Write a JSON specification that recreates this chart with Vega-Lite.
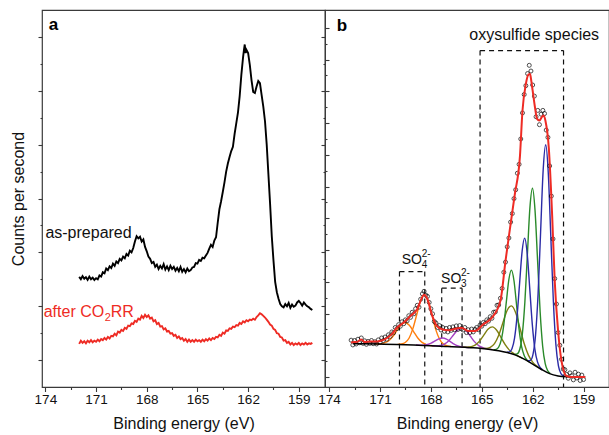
{
  "$schema": "https://vega.github.io/schema/vega-lite/v6.json",
  "background": "white",
  "padding": {"left": 9, "top": 9, "right": 1, "bottom": 1},
  "bounds": "flush",
  "spacing": 0,
  "config": {
    "font": "Liberation Sans",
    "view": {"stroke": "#3a3a3a", "strokeWidth": 1.2},
    "axis": {"domain": false, "grid": false, "tickColor": "#3a3a3a", "tickWidth": 1.1, "labelColor": "#111111", "titleColor": "#111111", "titleFontWeight": "normal", "labelFlush": false, "labelFont": "Liberation Sans", "titleFont": "Liberation Sans"}
  },
  "datasets": {
    "asprep": [
      {"eV":172.0,"y":2045},{"eV":171.9,"y":2000},{"eV":171.8,"y":2060},{"eV":171.7,"y":2010},{"eV":171.6,"y":2040},{"eV":171.5,"y":1990},{"eV":171.4,"y":2050},{"eV":171.3,"y":2000},{"eV":171.2,"y":2030},{"eV":171.1,"y":1985},
      {"eV":171.0,"y":2020},{"eV":170.9,"y":2000},{"eV":170.8,"y":2070},{"eV":170.7,"y":2050},{"eV":170.6,"y":2130},{"eV":170.5,"y":2110},{"eV":170.4,"y":2200},{"eV":170.3,"y":2170},{"eV":170.2,"y":2240},{"eV":170.1,"y":2210},
      {"eV":170.0,"y":2290},{"eV":169.9,"y":2250},{"eV":169.8,"y":2330},{"eV":169.7,"y":2300},{"eV":169.6,"y":2380},{"eV":169.5,"y":2350},{"eV":169.4,"y":2420},{"eV":169.3,"y":2390},{"eV":169.2,"y":2470},{"eV":169.1,"y":2440},
      {"eV":169.0,"y":2530},{"eV":168.9,"y":2500},{"eV":168.8,"y":2580},{"eV":168.7,"y":2700},{"eV":168.6,"y":2800},{"eV":168.5,"y":2760},{"eV":168.4,"y":2790},{"eV":168.3,"y":2700},{"eV":168.2,"y":2740},{"eV":168.1,"y":2600},
      {"eV":168.0,"y":2520},{"eV":167.9,"y":2420},{"eV":167.8,"y":2380},{"eV":167.7,"y":2300},{"eV":167.6,"y":2320},{"eV":167.5,"y":2230},{"eV":167.4,"y":2270},{"eV":167.3,"y":2190},{"eV":167.2,"y":2250},{"eV":167.1,"y":2200},
      {"eV":167.0,"y":2280},{"eV":166.9,"y":2180},{"eV":166.8,"y":2240},{"eV":166.7,"y":2170},{"eV":166.6,"y":2250},{"eV":166.5,"y":2190},{"eV":166.4,"y":2230},{"eV":166.3,"y":2160},{"eV":166.2,"y":2210},{"eV":166.1,"y":2150},
      {"eV":166.0,"y":2230},{"eV":165.9,"y":2140},{"eV":165.8,"y":2190},{"eV":165.7,"y":2130},{"eV":165.6,"y":2200},{"eV":165.5,"y":2150},{"eV":165.4,"y":2170},{"eV":165.3,"y":2220},{"eV":165.2,"y":2230},{"eV":165.1,"y":2300},
      {"eV":165.0,"y":2290},{"eV":164.9,"y":2360},{"eV":164.8,"y":2340},{"eV":164.7,"y":2400},{"eV":164.6,"y":2390},{"eV":164.5,"y":2440},{"eV":164.4,"y":2490},{"eV":164.3,"y":2570},{"eV":164.2,"y":2640},{"eV":164.1,"y":2600},
      {"eV":164.0,"y":2720},{"eV":163.9,"y":2780},{"eV":163.8,"y":3050},{"eV":163.7,"y":3300},{"eV":163.6,"y":3450},{"eV":163.5,"y":3620},{"eV":163.4,"y":3800},{"eV":163.3,"y":4000},{"eV":163.2,"y":4150},{"eV":163.1,"y":4270},
      {"eV":163.0,"y":4380},{"eV":162.9,"y":4460},{"eV":162.8,"y":4700},{"eV":162.7,"y":4900},{"eV":162.6,"y":5100},{"eV":162.5,"y":5400},{"eV":162.4,"y":5800},{"eV":162.3,"y":6120},{"eV":162.25,"y":6250},{"eV":162.2,"y":6360},
      {"eV":162.15,"y":6200},{"eV":162.1,"y":6260},{"eV":162.0,"y":6200},{"eV":161.9,"y":5980},{"eV":161.8,"y":5700},{"eV":161.7,"y":5480},{"eV":161.6,"y":5460},{"eV":161.5,"y":5580},{"eV":161.4,"y":5680},{"eV":161.3,"y":5640},
      {"eV":161.2,"y":5420},{"eV":161.1,"y":5200},{"eV":161.0,"y":4930},{"eV":160.9,"y":4500},{"eV":160.8,"y":3950},{"eV":160.7,"y":3400},{"eV":160.6,"y":2800},{"eV":160.5,"y":2350},{"eV":160.4,"y":1950},{"eV":160.3,"y":1760},
      {"eV":160.2,"y":1640},{"eV":160.1,"y":1540},{"eV":160.0,"y":1500},{"eV":159.9,"y":1480},{"eV":159.8,"y":1540},{"eV":159.7,"y":1500},{"eV":159.6,"y":1560},{"eV":159.5,"y":1470},{"eV":159.4,"y":1530},{"eV":159.3,"y":1490},
      {"eV":159.2,"y":1510},{"eV":159.1,"y":1570},{"eV":159.0,"y":1600},{"eV":158.9,"y":1560},{"eV":158.8,"y":1510},{"eV":158.7,"y":1570},{"eV":158.6,"y":1530},{"eV":158.5,"y":1500},{"eV":158.4,"y":1480},{"eV":158.3,"y":1450},{"eV":158.2,"y":1430}
    ],
    "after": [
      {"eV":172.0,"y":800},{"eV":171.9,"y":860},{"eV":171.8,"y":820},{"eV":171.7,"y":850},{"eV":171.6,"y":810},{"eV":171.5,"y":860},{"eV":171.4,"y":830},{"eV":171.3,"y":870},{"eV":171.2,"y":830},{"eV":171.1,"y":860},
      {"eV":171.0,"y":840},{"eV":170.9,"y":880},{"eV":170.8,"y":850},{"eV":170.7,"y":890},{"eV":170.6,"y":870},{"eV":170.5,"y":910},{"eV":170.4,"y":880},{"eV":170.3,"y":930},{"eV":170.2,"y":900},{"eV":170.1,"y":950},
      {"eV":170.0,"y":940},{"eV":169.9,"y":990},{"eV":169.8,"y":960},{"eV":169.7,"y":1030},{"eV":169.6,"y":1010},{"eV":169.5,"y":1060},{"eV":169.4,"y":1040},{"eV":169.3,"y":1100},{"eV":169.2,"y":1080},{"eV":169.1,"y":1140},
      {"eV":169.0,"y":1130},{"eV":168.9,"y":1180},{"eV":168.8,"y":1170},{"eV":168.7,"y":1230},{"eV":168.6,"y":1210},{"eV":168.5,"y":1270},{"eV":168.4,"y":1250},{"eV":168.3,"y":1320},{"eV":168.2,"y":1280},{"eV":168.1,"y":1340},
      {"eV":168.0,"y":1300},{"eV":167.9,"y":1330},{"eV":167.8,"y":1270},{"eV":167.7,"y":1290},{"eV":167.6,"y":1220},{"eV":167.5,"y":1240},{"eV":167.4,"y":1170},{"eV":167.3,"y":1190},{"eV":167.2,"y":1120},{"eV":167.1,"y":1130},
      {"eV":167.0,"y":1070},{"eV":166.9,"y":1090},{"eV":166.8,"y":1030},{"eV":166.7,"y":1040},{"eV":166.6,"y":990},{"eV":166.5,"y":1000},{"eV":166.4,"y":950},{"eV":166.3,"y":970},{"eV":166.2,"y":910},{"eV":166.1,"y":940},
      {"eV":166.0,"y":890},{"eV":165.9,"y":910},{"eV":165.8,"y":860},{"eV":165.7,"y":890},{"eV":165.6,"y":840},{"eV":165.5,"y":880},{"eV":165.4,"y":840},{"eV":165.3,"y":870},{"eV":165.2,"y":840},{"eV":165.1,"y":880},
      {"eV":165.0,"y":850},{"eV":164.9,"y":870},{"eV":164.8,"y":840},{"eV":164.7,"y":880},{"eV":164.6,"y":850},{"eV":164.5,"y":890},{"eV":164.4,"y":860},{"eV":164.3,"y":900},{"eV":164.2,"y":870},{"eV":164.1,"y":910},
      {"eV":164.0,"y":890},{"eV":163.9,"y":930},{"eV":163.8,"y":920},{"eV":163.7,"y":970},{"eV":163.6,"y":950},{"eV":163.5,"y":1010},{"eV":163.4,"y":990},{"eV":163.3,"y":1050},{"eV":163.2,"y":1040},{"eV":163.1,"y":1090},
      {"eV":163.0,"y":1080},{"eV":162.9,"y":1120},{"eV":162.8,"y":1110},{"eV":162.7,"y":1150},{"eV":162.6,"y":1140},{"eV":162.5,"y":1190},{"eV":162.4,"y":1170},{"eV":162.3,"y":1220},{"eV":162.2,"y":1200},{"eV":162.1,"y":1240},
      {"eV":162.0,"y":1220},{"eV":161.9,"y":1250},{"eV":161.8,"y":1240},{"eV":161.7,"y":1270},{"eV":161.6,"y":1250},{"eV":161.5,"y":1300},{"eV":161.4,"y":1330},{"eV":161.3,"y":1370},{"eV":161.2,"y":1350},{"eV":161.1,"y":1320},
      {"eV":161.0,"y":1290},{"eV":160.9,"y":1250},{"eV":160.8,"y":1210},{"eV":160.7,"y":1160},{"eV":160.6,"y":1140},{"eV":160.5,"y":1080},{"eV":160.4,"y":1060},{"eV":160.3,"y":1000},{"eV":160.2,"y":990},{"eV":160.1,"y":930},
      {"eV":160.0,"y":920},{"eV":159.9,"y":860},{"eV":159.8,"y":870},{"eV":159.7,"y":820},{"eV":159.6,"y":840},{"eV":159.5,"y":790},{"eV":159.4,"y":820},{"eV":159.3,"y":780},{"eV":159.2,"y":810},{"eV":159.1,"y":790},
      {"eV":159.0,"y":820},{"eV":158.9,"y":780},{"eV":158.8,"y":810},{"eV":158.7,"y":790},{"eV":158.6,"y":820},{"eV":158.5,"y":790},{"eV":158.4,"y":810},{"eV":158.3,"y":800},{"eV":158.2,"y":820}
    ],
    "pts": [
      {"eV":172.7,"y":1160},{"eV":172.6,"y":1010},{"eV":172.5,"y":1150},{"eV":172.4,"y":1040},{"eV":172.3,"y":1190},{"eV":172.2,"y":1080},{"eV":172.1,"y":1230},{"eV":172.0,"y":1060},{"eV":171.9,"y":1140},{"eV":171.8,"y":1030},
      {"eV":171.7,"y":1120},{"eV":171.6,"y":1060},{"eV":171.5,"y":1150},{"eV":171.4,"y":1050},{"eV":171.3,"y":1110},{"eV":171.2,"y":1040},{"eV":171.1,"y":1170},{"eV":171.0,"y":1090},{"eV":170.9,"y":1230},{"eV":170.8,"y":1150},
      {"eV":170.7,"y":1260},{"eV":170.6,"y":1190},{"eV":170.5,"y":1330},{"eV":170.4,"y":1280},{"eV":170.3,"y":1420},{"eV":170.2,"y":1390},{"eV":170.1,"y":1560},{"eV":170.0,"y":1520},{"eV":169.9,"y":1650},{"eV":169.8,"y":1600},
      {"eV":169.7,"y":1740},{"eV":169.6,"y":1680},{"eV":169.5,"y":1800},{"eV":169.4,"y":1770},{"eV":169.3,"y":1930},{"eV":169.2,"y":1880},{"eV":169.1,"y":2040},{"eV":169.0,"y":1990},{"eV":168.9,"y":2150},{"eV":168.8,"y":2260},
      {"eV":168.7,"y":2200},{"eV":168.6,"y":2450},{"eV":168.5,"y":2620},{"eV":168.4,"y":2700},{"eV":168.3,"y":2580},{"eV":168.2,"y":2540},{"eV":168.1,"y":2350},{"eV":168.0,"y":2150},{"eV":167.9,"y":1990},{"eV":167.8,"y":1750},
      {"eV":167.7,"y":1700},{"eV":167.6,"y":1560},{"eV":167.5,"y":1620},{"eV":167.4,"y":1480},{"eV":167.3,"y":1560},{"eV":167.2,"y":1440},{"eV":167.1,"y":1530},{"eV":167.0,"y":1420},{"eV":166.9,"y":1560},{"eV":166.8,"y":1470},
      {"eV":166.7,"y":1580},{"eV":166.6,"y":1490},{"eV":166.5,"y":1610},{"eV":166.4,"y":1500},{"eV":166.3,"y":1620},{"eV":166.2,"y":1520},{"eV":166.1,"y":1480},{"eV":166.0,"y":1560},{"eV":165.9,"y":1400},{"eV":165.8,"y":1490},
      {"eV":165.7,"y":1400},{"eV":165.6,"y":1510},{"eV":165.5,"y":1420},{"eV":165.4,"y":1500},{"eV":165.3,"y":1560},{"eV":165.2,"y":1490},{"eV":165.1,"y":1640},{"eV":165.0,"y":1600},{"eV":164.9,"y":1720},{"eV":164.8,"y":1680},
      {"eV":164.7,"y":1800},{"eV":164.6,"y":1760},{"eV":164.5,"y":1900},{"eV":164.4,"y":1850},{"eV":164.3,"y":2040},{"eV":164.2,"y":2050},{"eV":164.1,"y":2260},{"eV":164.0,"y":2270},{"eV":163.9,"y":2480},{"eV":163.8,"y":2790},
      {"eV":163.7,"y":3300},{"eV":163.6,"y":3620},{"eV":163.5,"y":4100},{"eV":163.4,"y":4380},{"eV":163.3,"y":4880},{"eV":163.2,"y":5150},{"eV":163.1,"y":5620},{"eV":163.0,"y":5900},{"eV":162.9,"y":6420},{"eV":162.8,"y":6700},
      {"eV":162.7,"y":7500},{"eV":162.6,"y":8320},{"eV":162.5,"y":8900},{"eV":162.4,"y":9180},{"eV":162.3,"y":9560},{"eV":162.2,"y":9820},{"eV":162.1,"y":9640},{"eV":162.0,"y":9200},{"eV":161.9,"y":8850},{"eV":161.8,"y":8200},
      {"eV":161.7,"y":8400},{"eV":161.6,"y":7950},{"eV":161.5,"y":8280},{"eV":161.4,"y":8400},{"eV":161.3,"y":8300},{"eV":161.2,"y":7780},{"eV":161.1,"y":7550},{"eV":161.0,"y":6650},{"eV":160.9,"y":5700},{"eV":160.8,"y":4350},
      {"eV":160.7,"y":3100},{"eV":160.6,"y":2300},{"eV":160.5,"y":1400},{"eV":160.4,"y":1000},{"eV":160.3,"y":560},{"eV":160.2,"y":250},{"eV":160.1,"y":230},{"eV":160.0,"y":80},{"eV":159.9,"y":-40},{"eV":159.8,"y":130},
      {"eV":159.7,"y":40},{"eV":159.6,"y":-90},{"eV":159.5,"y":150},{"eV":159.4,"y":-30},{"eV":159.3,"y":90},{"eV":159.2,"y":-110},{"eV":159.1,"y":60},{"eV":159.0,"y":-80}
    ],
    "fit": [
      {"eV":172.7,"y":1085},{"eV":172.5,"y":1100},{"eV":172.3,"y":1115},{"eV":172.1,"y":1180},{"eV":171.9,"y":1105},{"eV":171.6,"y":1120},{"eV":171.3,"y":1115},{"eV":171.0,"y":1135},{"eV":170.7,"y":1190},{"eV":170.5,"y":1260},
      {"eV":170.3,"y":1350},{"eV":170.0,"y":1555},{"eV":169.6,"y":1715},{"eV":169.2,"y":1925},{"eV":168.8,"y":2140},{"eV":168.55,"y":2470},{"eV":168.4,"y":2590},{"eV":168.2,"y":2450},{"eV":167.95,"y":1980},{"eV":167.65,"y":1610},
      {"eV":167.35,"y":1505},{"eV":166.95,"y":1475},{"eV":166.5,"y":1530},{"eV":166.2,"y":1555},{"eV":165.8,"y":1450},{"eV":165.4,"y":1450},{"eV":164.9,"y":1665},{"eV":164.4,"y":1870},{"eV":163.9,"y":2400},{"eV":163.6,"y":3660},
      {"eV":163.3,"y":4820},{"eV":163.05,"y":5760},{"eV":162.75,"y":6950},{"eV":162.6,"y":8390},{"eV":162.4,"y":9235},{"eV":162.25,"y":9530},{"eV":162.15,"y":9550},{"eV":162.1,"y":9400},{"eV":162.0,"y":9020},{"eV":161.85,"y":8450},
      {"eV":161.75,"y":8140},{"eV":161.6,"y":8080},{"eV":161.45,"y":8200},{"eV":161.35,"y":8240},{"eV":161.25,"y":8080},{"eV":161.05,"y":7230},{"eV":160.85,"y":5080},{"eV":160.7,"y":3030},{"eV":160.5,"y":1450},{"eV":160.3,"y":505},
      {"eV":160.0,"y":30},{"eV":159.7,"y":0},{"eV":158.9,"y":0}
    ],
    "bgline": [
      {"eV":172.6,"y":1050},{"eV":172.0,"y":1046},{"eV":171.0,"y":1037},{"eV":170.0,"y":1026},{"eV":169.0,"y":1008},{"eV":168.0,"y":984},{"eV":167.0,"y":960},{"eV":166.0,"y":936},{"eV":165.5,"y":922},{"eV":165.0,"y":900},
      {"eV":164.5,"y":870},{"eV":164.0,"y":828},{"eV":163.5,"y":770},{"eV":163.0,"y":690},{"eV":162.5,"y":565},{"eV":162.0,"y":405},{"eV":161.5,"y":245},{"eV":161.0,"y":105},{"eV":160.5,"y":35},{"eV":160.0,"y":8},
      {"eV":159.5,"y":0},{"eV":158.9,"y":0}
    ],
    "comps": [
      {"peak":"o1","eV":171.27,"y":1041},{"peak":"o1","eV":171.02,"y":1045},{"peak":"o1","eV":170.77,"y":1066},{"peak":"o1","eV":170.52,"y":1127},{"peak":"o1","eV":170.27,"y":1256},{"peak":"o1","eV":170.02,"y":1451},{"peak":"o1","eV":169.77,"y":1640},{"peak":"o1","eV":169.52,"y":1718},{"peak":"o1","eV":169.27,"y":1631},{"peak":"o1","eV":169.02,"y":1433},{"peak":"o1","eV":168.77,"y":1229},{"peak":"o1","eV":168.52,"y":1092},{"peak":"o1","eV":168.27,"y":1022},{"peak":"o1","eV":168.02,"y":993},{"peak":"o1","eV":167.77,"y":980},
      {"peak":"o2","eV":169.96,"y":1029},{"peak":"o2","eV":169.73,"y":1040},{"peak":"o2","eV":169.51,"y":1088},{"peak":"o2","eV":169.28,"y":1229},{"peak":"o2","eV":169.06,"y":1525},{"peak":"o2","eV":168.83,"y":1968},{"peak":"o2","eV":168.61,"y":2402},{"peak":"o2","eV":168.38,"y":2583},{"peak":"o2","eV":168.16,"y":2391},{"peak":"o2","eV":167.93,"y":1946},{"peak":"o2","eV":167.71,"y":1493},{"peak":"o2","eV":167.48,"y":1187},{"peak":"o2","eV":167.26,"y":1036},{"peak":"o2","eV":167.03,"y":979},{"peak":"o2","eV":166.81,"y":959},
      {"peak":"p1","eV":168.88,"y":1006},{"peak":"p1","eV":168.65,"y":1004},{"peak":"p1","eV":168.43,"y":1005},{"peak":"p1","eV":168.2,"y":1024},{"peak":"p1","eV":167.98,"y":1068},{"peak":"p1","eV":167.75,"y":1136},{"peak":"p1","eV":167.53,"y":1202},{"peak":"p1","eV":167.3,"y":1227},{"peak":"p1","eV":167.08,"y":1191},{"peak":"p1","eV":166.85,"y":1114},{"peak":"p1","eV":166.63,"y":1035},{"peak":"p1","eV":166.4,"y":981},{"peak":"p1","eV":166.18,"y":951},{"peak":"p1","eV":165.95,"y":938},{"peak":"p1","eV":165.73,"y":929},
      {"peak":"p2","eV":167.93,"y":983},{"peak":"p2","eV":167.68,"y":983},{"peak":"p2","eV":167.43,"y":996},{"peak":"p2","eV":167.18,"y":1045},{"peak":"p2","eV":166.93,"y":1153},{"peak":"p2","eV":166.68,"y":1316},{"peak":"p2","eV":166.43,"y":1476},{"peak":"p2","eV":166.18,"y":1540},{"peak":"p2","eV":165.93,"y":1464},{"peak":"p2","eV":165.68,"y":1291},{"peak":"p2","eV":165.43,"y":1114},{"peak":"p2","eV":165.18,"y":989},{"peak":"p2","eV":164.93,"y":922},{"peak":"p2","eV":164.68,"y":888},{"peak":"p2","eV":164.43,"y":865},
      {"peak":"l1","eV":166.12,"y":941},{"peak":"l1","eV":165.87,"y":941},{"peak":"l1","eV":165.62,"y":957},{"peak":"l1","eV":165.37,"y":1013},{"peak":"l1","eV":165.12,"y":1139},{"peak":"l1","eV":164.87,"y":1329},{"peak":"l1","eV":164.62,"y":1513},{"peak":"l1","eV":164.37,"y":1579},{"peak":"l1","eV":164.12,"y":1473},{"peak":"l1","eV":163.87,"y":1250},{"peak":"l1","eV":163.62,"y":1018},{"peak":"l1","eV":163.37,"y":847},{"peak":"l1","eV":163.12,"y":741},{"peak":"l1","eV":162.87,"y":666},{"peak":"l1","eV":162.62,"y":597},
      {"peak":"l2","eV":165.0,"y":903},{"peak":"l2","eV":164.75,"y":902},{"peak":"l2","eV":164.5,"y":936},{"peak":"l2","eV":164.25,"y":1053},{"peak":"l2","eV":164.0,"y":1318},{"peak":"l2","eV":163.75,"y":1715},{"peak":"l2","eV":163.5,"y":2103},{"peak":"l2","eV":163.25,"y":2240},{"peak":"l2","eV":163.0,"y":2023},{"peak":"l2","eV":162.75,"y":1544},{"peak":"l2","eV":162.5,"y":1055},{"peak":"l2","eV":162.25,"y":689},{"peak":"l2","eV":162.0,"y":471},{"peak":"l2","eV":161.75,"y":342},{"peak":"l2","eV":161.5,"y":248},
      {"peak":"g1","eV":164.3,"y":859},{"peak":"g1","eV":164.15,"y":870},{"peak":"g1","eV":164.0,"y":944},{"peak":"g1","eV":163.85,"y":1168},{"peak":"g1","eV":163.7,"y":1649},{"peak":"g1","eV":163.55,"y":2375},{"peak":"g1","eV":163.4,"y":3080},{"peak":"g1","eV":163.25,"y":3366},{"peak":"g1","eV":163.1,"y":3032},{"peak":"g1","eV":162.95,"y":2277},{"peak":"g1","eV":162.8,"y":1496},{"peak":"g1","eV":162.65,"y":960},{"peak":"g1","eV":162.5,"y":681},{"peak":"g1","eV":162.35,"y":546},{"peak":"g1","eV":162.2,"y":475},
      {"peak":"g2","eV":163.06,"y":712},{"peak":"g2","eV":162.91,"y":728},{"peak":"g2","eV":162.76,"y":873},{"peak":"g2","eV":162.61,"y":1343},{"peak":"g2","eV":162.46,"y":2351},{"peak":"g2","eV":162.31,"y":3863},{"peak":"g2","eV":162.16,"y":5345},{"peak":"g2","eV":162.01,"y":5948},{"peak":"g2","eV":161.86,"y":5249},{"peak":"g2","eV":161.71,"y":3671},{"peak":"g2","eV":161.56,"y":2063},{"peak":"g2","eV":161.41,"y":970},{"peak":"g2","eV":161.26,"y":421},{"peak":"g2","eV":161.11,"y":197},{"peak":"g2","eV":160.96,"y":111},
      {"peak":"b1","eV":163.52,"y":780},{"peak":"b1","eV":163.37,"y":791},{"peak":"b1","eV":163.22,"y":893},{"peak":"b1","eV":163.07,"y":1218},{"peak":"b1","eV":162.92,"y":1910},{"peak":"b1","eV":162.77,"y":2950},{"peak":"b1","eV":162.62,"y":3966},{"peak":"b1","eV":162.47,"y":4375},{"peak":"b1","eV":162.32,"y":3878},{"peak":"b1","eV":162.17,"y":2776},{"peak":"b1","eV":162.02,"y":1651},{"peak":"b1","eV":161.87,"y":880},{"peak":"b1","eV":161.72,"y":483},{"peak":"b1","eV":161.57,"y":309},{"peak":"b1","eV":161.42,"y":231},
      {"peak":"b2","eV":162.28,"y":511},{"peak":"b2","eV":162.13,"y":526},{"peak":"b2","eV":161.98,"y":713},{"peak":"b2","eV":161.83,"y":1319},{"peak":"b2","eV":161.68,"y":2625},{"peak":"b2","eV":161.53,"y":4587},{"peak":"b2","eV":161.38,"y":6521},{"peak":"b2","eV":161.23,"y":7319},{"peak":"b2","eV":161.08,"y":6437},{"peak":"b2","eV":160.93,"y":4427},{"peak":"b2","eV":160.78,"y":2396},{"peak":"b2","eV":160.63,"y":1021},{"peak":"b2","eV":160.48,"y":348},{"peak":"b2","eV":160.33,"y":105},{"peak":"b2","eV":160.18,"y":34}
    ],
    "vdash": [
      {"eV":165.1,"y":10285,"y2":-315},{"eV":160.18,"y":10285,"y2":-315},
      {"eV":169.85,"y":3322,"y2":-315},{"eV":168.36,"y":3322,"y2":-315},
      {"eV":167.36,"y":2798,"y2":-315},{"eV":166.16,"y":2798,"y2":-315}
    ],
    "hdash": [
      {"eV":165.1,"eV2":160.18,"y":10285},
      {"eV":169.85,"eV2":168.36,"y":3322},
      {"eV":167.36,"eV2":166.16,"y":2798}
    ],
    "so": [
      {"eV":169.72,"y":3550,"t":"SO","sub":"4","sup":"2-"},
      {"eV":167.4,"y":2975,"t":"SO","sub":"3","sup":"2-"}
    ]
  },
  "hconcat": [
    {
      "width": 283,
      "height": 377,
      "resolve": {"axis": {"x": "independent", "y": "independent"}},
      "layer": [
        {
          "data": {"name": "asprep"},
          "mark": {"type": "point", "opacity": 0},
          "encoding": {
            "x": {"field": "eV", "type": "quantitative", "scale": {"domain": [157.45, 174.2], "reverse": true, "nice": false, "zero": false},
                  "axis": {"orient": "bottom", "values": [174, 171, 168, 165, 162, 159], "format": "d", "tickSize": 4.5, "labelFontSize": 13.5, "labelPadding": 1, "title": "Binding energy (eV)", "titleFontSize": 16, "titlePadding": 9}},
            "y": {"field": "y", "type": "quantitative", "scale": {"domain": [0, 7000], "nice": false, "zero": false},
                  "axis": {"orient": "left", "values": [500, 1500, 2500, 3500, 4500, 5500, 6500], "tickSize": 4, "labels": false, "title": "Counts per second", "titleFontSize": 16, "titlePadding": 11}}
          }
        },
        {
          "data": {"name": "asprep"},
          "mark": {"type": "point", "opacity": 0},
          "encoding": {
            "x": {"field": "eV", "type": "quantitative", "scale": {"domain": [157.45, 174.2], "reverse": true, "nice": false, "zero": false},
                  "axis": {"orient": "bottom", "values": [172.5, 169.5, 166.5, 163.5, 160.5], "tickSize": 2.5, "labels": false, "title": null}},
            "y": {"field": "y", "type": "quantitative", "scale": {"domain": [0, 7000], "nice": false, "zero": false},
                  "axis": {"orient": "left", "values": [1000, 2000, 3000, 4000, 5000, 6000], "tickSize": 2, "labels": false, "title": null}}
          }
        },
        {
          "data": {"name": "asprep"},
          "mark": {"type": "point", "opacity": 0},
          "encoding": {
            "x": {"field": "eV", "type": "quantitative", "scale": {"domain": [157.45, 174.2], "reverse": true, "nice": false, "zero": false}, "axis": null},
            "y": {"field": "y", "type": "quantitative", "scale": {"domain": [0, 7000], "nice": false, "zero": false},
                  "axis": {"orient": "right", "offset": -4, "values": [500, 1500, 2500, 3500, 4500, 5500, 6500], "tickSize": 4, "labels": false, "title": null}}
          }
        },
        {
          "data": {"name": "asprep"},
          "mark": {"type": "point", "opacity": 0},
          "encoding": {
            "x": {"field": "eV", "type": "quantitative", "scale": {"domain": [157.45, 174.2], "reverse": true, "nice": false, "zero": false}, "axis": null},
            "y": {"field": "y", "type": "quantitative", "scale": {"domain": [0, 7000], "nice": false, "zero": false},
                  "axis": {"orient": "right", "offset": -2, "values": [1000, 2000, 3000, 4000, 5000, 6000], "tickSize": 2, "labels": false, "title": null}}
          }
        },
        {
          "data": {"name": "asprep"},
          "mark": {"type": "line", "color": "#000000", "strokeWidth": 1.9},
          "encoding": {
            "x": {"field": "eV", "type": "quantitative", "scale": {"domain": [157.45, 174.2], "reverse": true, "nice": false, "zero": false}, "axis": null},
            "y": {"field": "y", "type": "quantitative", "scale": {"domain": [0, 7000], "nice": false, "zero": false}, "axis": null}
          }
        },
        {
          "data": {"name": "after"},
          "mark": {"type": "line", "color": "#ee2b24", "strokeWidth": 1.9},
          "encoding": {
            "x": {"field": "eV", "type": "quantitative", "scale": {"domain": [157.45, 174.2], "reverse": true, "nice": false, "zero": false}, "axis": null},
            "y": {"field": "y", "type": "quantitative", "scale": {"domain": [0, 7000], "nice": false, "zero": false}, "axis": null}
          }
        },
        {
          "data": {"values": [{"eV": 174.0, "y": 2761, "t": "as-prepared"}]},
          "mark": {"type": "text", "align": "left", "baseline": "alphabetic", "fontSize": 16, "color": "#111111"},
          "encoding": {
            "x": {"field": "eV", "type": "quantitative", "scale": {"domain": [157.45, 174.2], "reverse": true, "nice": false, "zero": false}, "axis": null},
            "y": {"field": "y", "type": "quantitative", "scale": {"domain": [0, 7000], "nice": false, "zero": false}, "axis": null},
            "text": {"field": "t"}
          }
        },
        {
          "data": {"values": [{"eV": 174.1, "y": 1301, "t": "after CO", "sub": "2", "rest": "RR"}]},
          "layer": [
            {"mark": {"type": "text", "align": "left", "baseline": "alphabetic", "fontSize": 16, "color": "#ee2b24"},
             "encoding": {
               "x": {"field": "eV", "type": "quantitative", "scale": {"domain": [157.45, 174.2], "reverse": true, "nice": false, "zero": false}, "axis": null},
               "y": {"field": "y", "type": "quantitative", "scale": {"domain": [0, 7000], "nice": false, "zero": false}, "axis": null},
               "text": {"field": "t"}}},
            {"mark": {"type": "text", "align": "left", "baseline": "alphabetic", "fontSize": 11, "dx": 61, "dy": 4, "color": "#ee2b24"},
             "encoding": {
               "x": {"field": "eV", "type": "quantitative", "scale": {"domain": [157.45, 174.2], "reverse": true, "nice": false, "zero": false}, "axis": null},
               "y": {"field": "y", "type": "quantitative", "scale": {"domain": [0, 7000], "nice": false, "zero": false}, "axis": null},
               "text": {"field": "sub"}}},
            {"mark": {"type": "text", "align": "left", "baseline": "alphabetic", "fontSize": 16, "dx": 67, "color": "#ee2b24"},
             "encoding": {
               "x": {"field": "eV", "type": "quantitative", "scale": {"domain": [157.45, 174.2], "reverse": true, "nice": false, "zero": false}, "axis": null},
               "y": {"field": "y", "type": "quantitative", "scale": {"domain": [0, 7000], "nice": false, "zero": false}, "axis": null},
               "text": {"field": "rest"}}}
          ]
        },
        {
          "data": {"values": [{"eV": 173.8, "y": 6631, "t": "a"}]},
          "mark": {"type": "text", "align": "left", "baseline": "alphabetic", "fontSize": 17, "fontWeight": "bold", "color": "#000000"},
          "encoding": {
            "x": {"field": "eV", "type": "quantitative", "scale": {"domain": [157.45, 174.2], "reverse": true, "nice": false, "zero": false}, "axis": null},
            "y": {"field": "y", "type": "quantitative", "scale": {"domain": [0, 7000], "nice": false, "zero": false}, "axis": null},
            "text": {"field": "t"}
          }
        }
      ]
    },
    {
      "width": 284,
      "height": 377,
      "resolve": {"axis": {"x": "independent", "y": "independent"}},
      "layer": [
        {
          "data": {"name": "pts"},
          "mark": {"type": "point", "opacity": 0},
          "encoding": {
            "x": {"field": "eV", "type": "quantitative", "scale": {"domain": [157.5, 174.24], "reverse": true, "nice": false, "zero": false},
                  "axis": {"orient": "bottom", "values": [174, 171, 168, 165, 162, 159], "format": "d", "tickSize": 4.5, "labelFontSize": 13.5, "labelPadding": 1, "title": "Binding energy (eV)", "titleFontSize": 16, "titlePadding": 9}},
            "y": {"field": "y", "type": "quantitative", "scale": {"domain": [-315, 11563], "nice": false, "zero": false},
                  "axis": {"orient": "left", "offset": -4, "values": [0, 1000, 2000, 3000, 4000, 5000, 6000, 7000, 8000, 9000, 10000, 11000], "tickSize": 4, "labels": false, "title": null}}
          }
        },
        {
          "data": {"name": "pts"},
          "mark": {"type": "point", "opacity": 0},
          "encoding": {
            "x": {"field": "eV", "type": "quantitative", "scale": {"domain": [157.5, 174.24], "reverse": true, "nice": false, "zero": false},
                  "axis": {"orient": "bottom", "values": [172.5, 169.5, 166.5, 163.5, 160.5], "tickSize": 2.5, "labels": false, "title": null}},
            "y": {"field": "y", "type": "quantitative", "scale": {"domain": [-315, 11563], "nice": false, "zero": false},
                  "axis": {"orient": "left", "offset": -2, "values": [500, 1500, 2500, 3500, 4500, 5500, 6500, 7500, 8500, 9500, 10500], "tickSize": 2, "labels": false, "title": null}}
          }
        },
        {
          "data": {"name": "vdash"},
          "mark": {"type": "rule", "color": "#111111", "strokeWidth": 1.2, "strokeDash": [5, 4]},
          "encoding": {
            "x": {"field": "eV", "type": "quantitative", "scale": {"domain": [157.5, 174.24], "reverse": true, "nice": false, "zero": false}, "axis": null},
            "y": {"field": "y", "type": "quantitative", "scale": {"domain": [-315, 11563], "nice": false, "zero": false}, "axis": null},
            "y2": {"field": "y2"}
          }
        },
        {
          "data": {"name": "hdash"},
          "mark": {"type": "rule", "color": "#111111", "strokeWidth": 1.2, "strokeDash": [5, 4]},
          "encoding": {
            "x": {"field": "eV", "type": "quantitative", "scale": {"domain": [157.5, 174.24], "reverse": true, "nice": false, "zero": false}, "axis": null},
            "x2": {"field": "eV2"},
            "y": {"field": "y", "type": "quantitative", "scale": {"domain": [-315, 11563], "nice": false, "zero": false}, "axis": null}
          }
        },
        {
          "data": {"name": "comps"},
          "mark": {"type": "line", "strokeWidth": 1.4, "interpolate": "monotone"},
          "encoding": {
            "x": {"field": "eV", "type": "quantitative", "scale": {"domain": [157.5, 174.24], "reverse": true, "nice": false, "zero": false}, "axis": null},
            "y": {"field": "y", "type": "quantitative", "scale": {"domain": [-315, 11563], "nice": false, "zero": false}, "axis": null},
            "color": {"field": "peak", "type": "nominal", "legend": null,
                      "scale": {"domain": ["o1", "o2", "p1", "p2", "l1", "l2", "g1", "g2", "b1", "b2"],
                                "range": ["#ff7f0e", "#ff7f0e", "#a33fc2", "#a33fc2", "#7f7f10", "#7f7f10", "#2a8a2a", "#2a8a2a", "#2b2ba6", "#2b2ba6"]}}
          }
        },
        {
          "data": {"name": "bgline"},
          "mark": {"type": "line", "color": "#000000", "strokeWidth": 1.5, "interpolate": "monotone"},
          "encoding": {
            "x": {"field": "eV", "type": "quantitative", "scale": {"domain": [157.5, 174.24], "reverse": true, "nice": false, "zero": false}, "axis": null},
            "y": {"field": "y", "type": "quantitative", "scale": {"domain": [-315, 11563], "nice": false, "zero": false}, "axis": null}
          }
        },
        {
          "data": {"name": "pts"},
          "mark": {"type": "point", "shape": "circle", "filled": false, "color": "#000000", "size": 16, "strokeWidth": 1},
          "encoding": {
            "x": {"field": "eV", "type": "quantitative", "scale": {"domain": [157.5, 174.24], "reverse": true, "nice": false, "zero": false}, "axis": null},
            "y": {"field": "y", "type": "quantitative", "scale": {"domain": [-315, 11563], "nice": false, "zero": false}, "axis": null}
          }
        },
        {
          "data": {"name": "fit"},
          "mark": {"type": "line", "color": "#ee2b24", "strokeWidth": 2, "interpolate": "monotone"},
          "encoding": {
            "x": {"field": "eV", "type": "quantitative", "scale": {"domain": [157.5, 174.24], "reverse": true, "nice": false, "zero": false}, "axis": null},
            "y": {"field": "y", "type": "quantitative", "scale": {"domain": [-315, 11563], "nice": false, "zero": false}, "axis": null}
          }
        },
        {
          "data": {"name": "so"},
          "layer": [
            {"mark": {"type": "text", "align": "left", "baseline": "alphabetic", "fontSize": 14, "color": "#111111"},
             "encoding": {
               "x": {"field": "eV", "type": "quantitative", "scale": {"domain": [157.5, 174.24], "reverse": true, "nice": false, "zero": false}, "axis": null},
               "y": {"field": "y", "type": "quantitative", "scale": {"domain": [-315, 11563], "nice": false, "zero": false}, "axis": null},
               "text": {"field": "t"}}},
            {"mark": {"type": "text", "align": "left", "baseline": "alphabetic", "fontSize": 10, "dx": 20, "dy": 4, "color": "#111111"},
             "encoding": {
               "x": {"field": "eV", "type": "quantitative", "scale": {"domain": [157.5, 174.24], "reverse": true, "nice": false, "zero": false}, "axis": null},
               "y": {"field": "y", "type": "quantitative", "scale": {"domain": [-315, 11563], "nice": false, "zero": false}, "axis": null},
               "text": {"field": "sub"}}},
            {"mark": {"type": "text", "align": "left", "baseline": "alphabetic", "fontSize": 10, "dx": 20, "dy": -7, "color": "#111111"},
             "encoding": {
               "x": {"field": "eV", "type": "quantitative", "scale": {"domain": [157.5, 174.24], "reverse": true, "nice": false, "zero": false}, "axis": null},
               "y": {"field": "y", "type": "quantitative", "scale": {"domain": [-315, 11563], "nice": false, "zero": false}, "axis": null},
               "text": {"field": "sup"}}}
          ]
        },
        {
          "data": {"values": [{"eV": 161.91, "y": 10616, "t": "oxysulfide species"}]},
          "mark": {"type": "text", "align": "center", "baseline": "alphabetic", "fontSize": 16, "color": "#111111"},
          "encoding": {
            "x": {"field": "eV", "type": "quantitative", "scale": {"domain": [157.5, 174.24], "reverse": true, "nice": false, "zero": false}, "axis": null},
            "y": {"field": "y", "type": "quantitative", "scale": {"domain": [-315, 11563], "nice": false, "zero": false}, "axis": null},
            "text": {"field": "t"}
          }
        },
        {
          "data": {"values": [{"eV": 173.55, "y": 10916, "t": "b"}]},
          "mark": {"type": "text", "align": "left", "baseline": "alphabetic", "fontSize": 17, "fontWeight": "bold", "color": "#000000"},
          "encoding": {
            "x": {"field": "eV", "type": "quantitative", "scale": {"domain": [157.5, 174.24], "reverse": true, "nice": false, "zero": false}, "axis": null},
            "y": {"field": "y", "type": "quantitative", "scale": {"domain": [-315, 11563], "nice": false, "zero": false}, "axis": null},
            "text": {"field": "t"}
          }
        }
      ]
    }
  ]
}
